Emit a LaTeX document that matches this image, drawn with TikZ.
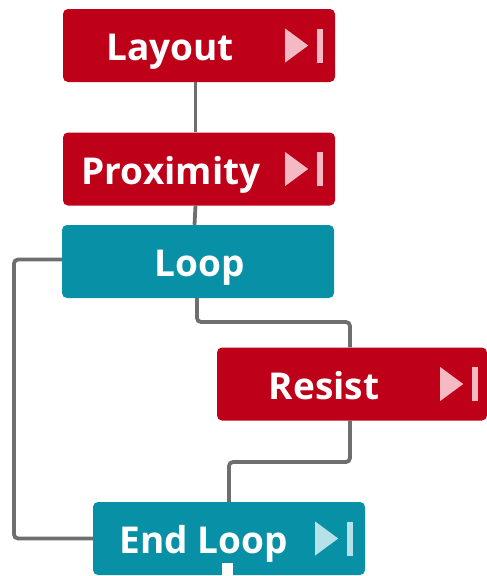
\documentclass[tikz,border=0pt]{standalone}
\usepackage{fontspec}
\setmainfont{Open Sans}
\begin{document}
\begin{tikzpicture}[x=1pt,y=-1pt]
\definecolor{boxred}{HTML}{BE0019}
\definecolor{boxteal}{HTML}{0891A6}
\definecolor{wiregray}{HTML}{6E6E6E}
\definecolor{iconpink}{HTML}{F4B9C2}
\definecolor{iconcyan}{HTML}{B5E1E9}
\tikzset{
  box/.style={rectangle, rounded corners=5pt, minimum height=73pt, minimum width=272pt, inner sep=0pt},
  redbox/.style={box, fill=boxred},
  tealbox/.style={box, fill=boxteal},
  lbl/.style={text=white, anchor=base, inner sep=0pt, font=\fontsize{37}{40}\selectfont\bfseries},
  wire/.style={draw=wiregray, line width=3.8pt, rounded corners=4pt},
  pics/playicon/.style={code={
    \fill[#1] (-50,-17) -- (-50,17) -- (-27,0) -- cycle;
    \fill[#1] (-18,-17) rectangle (-12,17);
  }}
}
\useasboundingbox (0,0) rectangle (487,576);
% boxes
\node[redbox] (layout) at (199,45.5) {};
\node[redbox] (prox) at (199,169) {};
\node[tealbox] (loop) at (198,261.5) {};
\node[redbox, minimum width=270pt] (resist) at (352,384) {};
\node[tealbox] (endloop) at (229,538.5) {};
% labels
\node[lbl] (tlayout) at (170,60) {Layout};
\node[lbl] (tprox) at (171,184) {Proximity};
\node[lbl] (tloop) at (199.5,276) {Loop};
\node[lbl] (tresist) at (324,399) {Resist};
\node[lbl] (tend) at (203.5,553) {End Loop};
% icons
\pic at (layout.east) {playicon=iconpink};
\pic at (prox.east) {playicon=iconpink};
\pic at ([xshift=3pt]resist.east) {playicon=iconpink};
\pic at (endloop.east) {playicon=iconcyan};
% wires
\draw[wire] ([xshift=-3.5pt]layout.south) -- ([xshift=-3.5pt]prox.north);
\draw[wire] ([xshift=-3.5pt]prox.south) -- ([xshift=-3.5pt]loop.north);
\draw[wire] ([xshift=-1pt]loop.south) -- ([xshift=-1pt]loop.south |- 0,322) -| ([xshift=-2pt]resist.north);
\draw[wire] ([xshift=-2pt]resist.south) -- ([xshift=-2pt]resist.south |- 0,462) -| (endloop.north);
\draw[wire] ([yshift=2pt]loop.west) -| (14,400) |- (endloop.west);
% notch
\fill[white] (222,563) rectangle (233,576);
\end{tikzpicture}
\end{document}
